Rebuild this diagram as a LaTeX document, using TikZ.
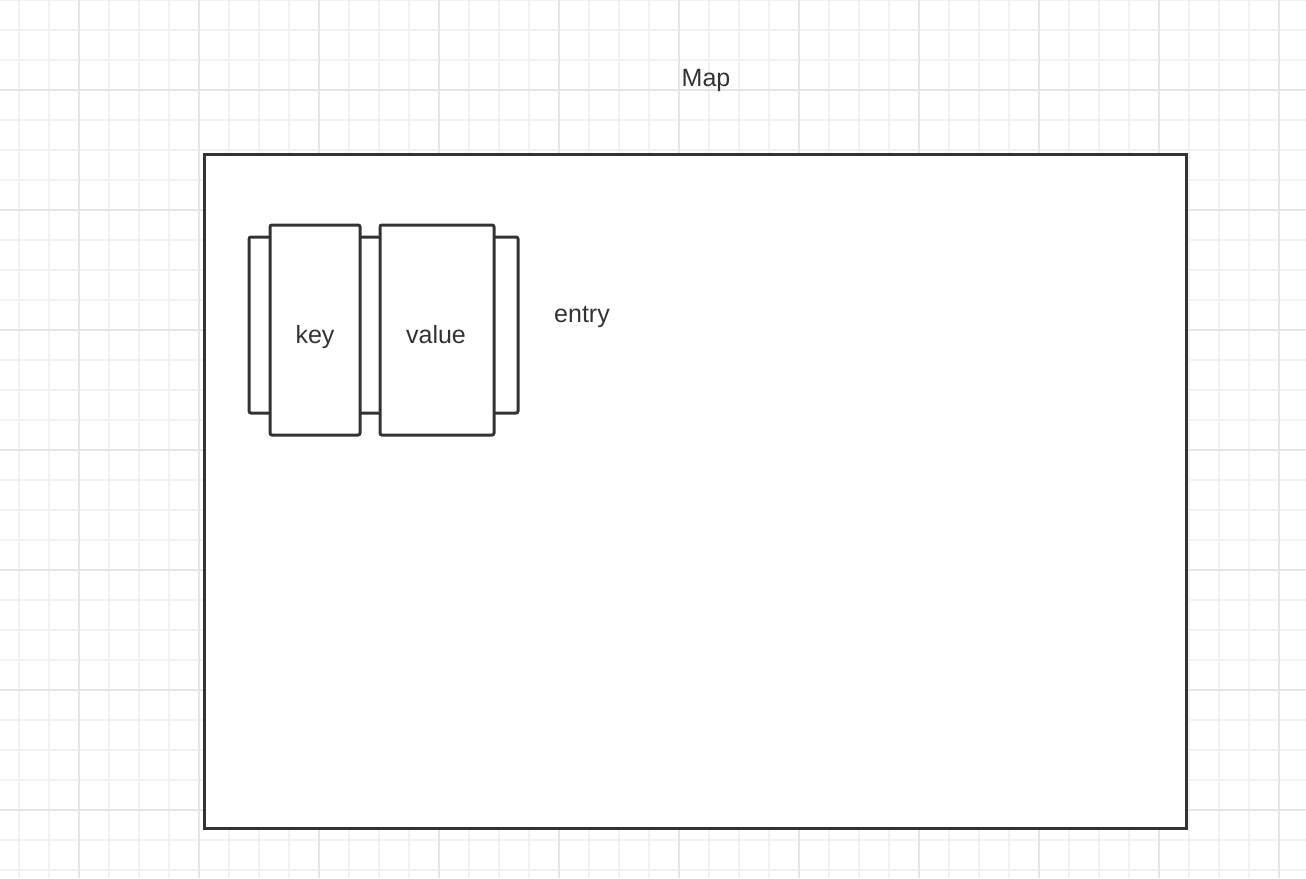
\documentclass[tikz,border=0pt]{standalone}
\usepackage{fontspec}
\setmainfont{Liberation Sans}
\usetikzlibrary{positioning}
\definecolor{ink}{HTML}{333333}
\definecolor{gridminor}{HTML}{F2F2F2}
\definecolor{gridmajor}{HTML}{E5E5E5}

\begin{document}
\begin{tikzpicture}[x=1pt,y=-1pt,
		box/.style={draw=ink,line width=3pt,fill=white,rounded corners=2pt,inner sep=0pt},
		label text/.style={text=ink,font=\fontsize{25}{29}\selectfont,inner sep=0pt,anchor=base}
		]
		
		\def \W {1306};
		\def \H {878};
		
		\useasboundingbox (0,0) rectangle (\W,\H);
		\fill[white] (0,0) rectangle (\W,\H);
		
		% background grid
		\foreach \x in {19,49,...,1306} {
			\draw[gridminor,line width=1.5pt] (\x,0) -- (\x,\H);
		}
		\foreach \y in {0,30,...,878} {
			\draw[gridminor,line width=1.5pt] (0,\y) -- (\W,\y);
		}
		\foreach \x in {79,199,...,1306} {
			\draw[gridmajor,line width=1.5pt] (\x,0) -- (\x,\H);
		}
		\foreach \y in {90,210,...,878} {
			\draw[gridmajor,line width=1.5pt] (0,\y) -- (\W,\y);
		}
		
		\node[box,rounded corners=0pt,minimum width=982pt,minimum height=674pt] at (695,491) (map) {};
		\node[label text] at (706,86) (maptitle) {Map};
		
		% entry
		\node[box,minimum width=269pt,minimum height=176pt] at (383.5,325) (entry) {};
		\node[box,minimum width=90pt,minimum height=210pt] at (315,330) (key) {};
		\node[box,minimum width=114pt,minimum height=210pt] at (437,330) (value) {};
		\node[label text] at (315,343) (keytext) {key};
		\node[label text] at (436,343) (valuetext) {value};
		\node[label text] at (582,322) (entrytext) {entry};
		
	\end{tikzpicture}
\end{document}
